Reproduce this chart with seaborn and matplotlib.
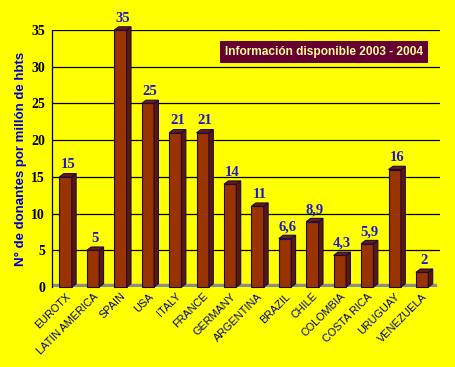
import matplotlib
matplotlib.use("Agg")
import matplotlib.pyplot as plt
import seaborn as sns
import pandas as pd
from matplotlib.patches import Polygon

# data
countries = ["EUROTX", "LATIN AMERICA", "SPAIN", "USA", "ITALY", "FRANCE", "GERMANY",
             "ARGENTINA", "BRAZIL", "CHILE", "COLOMBIA", "COSTA RICA", "URUGUAY", "VENEZUELA"]
donors = [15, 5, 35, 25, 21, 21, 14, 11, 6.6, 8.9, 4.3, 5.9, 16, 2]
value_labels = ["15", "5", "35", "25", "21", "21", "14", "11", "6,6", "8,9", "4,3", "5,9", "16", "2"]

df = pd.DataFrame({"country": countries, "donors": donors})

sns.set_style("white")
plt.rcParams["font.family"] = ["Liberation Sans", "DejaVu Sans"]

bg = "#ffff00"
fig = plt.figure(figsize=(4.55, 3.67), dpi=100, facecolor=bg)
ax = fig.add_axes([0.114, 0.218, 0.853, 0.70])
ax.set_facecolor(bg)

sns.barplot(data=df, x="country", y="donors", color="#993300", width=0.45,
            edgecolor="#1a0a4d", linewidth=0.8, saturation=1, ax=ax, zorder=3)

# fake 3d: side + top of each bar
dx, dy = 0.16, 0.45
for p in list(ax.patches):
    p.set_clip_on(False)
    x0, w, h = p.get_x(), p.get_width(), p.get_height()
    side = Polygon([(x0 + w, 0), (x0 + w + dx, dy), (x0 + w + dx, h + dy), (x0 + w, h)],
                   closed=True, facecolor="#5c1a00", edgecolor="#1a0a4d", lw=0.8,
                   zorder=3, clip_on=False)
    top = Polygon([(x0, h), (x0 + dx, h + dy), (x0 + w + dx, h + dy), (x0 + w, h)],
                  closed=True, facecolor="#6b1f00", edgecolor="#1a0a4d", lw=0.8,
                  zorder=3, clip_on=False)
    ax.add_patch(side)
    ax.add_patch(top)

for i, (v, lab) in enumerate(zip(donors, value_labels)):
    ax.text(i + dx / 2, v + dy + 0.3, lab, ha="center", va="bottom", color="#1a1acc",
            fontsize=10.5, fontweight="bold", family="Liberation Serif", zorder=4)

# floor
ax.axhspan(-0.05, 0.45, xmin=0.0, xmax=0.99, color="#8c8c8c", zorder=2)

ax.set_ylim(0, 35)
ax.set_xlim(-0.5, 13.65)
ax.set_yticks(range(0, 36, 5))
for yv in range(5, 36, 5):
    ax.axhline(yv, color="black", lw=0.9, zorder=1)

sns.despine(ax=ax, top=True, right=True, bottom=True)
ax.spines["left"].set_color("black")
ax.spines["left"].set_linewidth(0.9)

ax.set_xticks([i + 0.5 for i in range(-1, 14)], minor=True)
ax.tick_params(axis="x", which="major", length=0, pad=3)
ax.tick_params(axis="x", which="minor", length=4, width=0.8, color="black")
ax.tick_params(axis="y", length=4, width=0.8, color="black", pad=1)
ax.set_xticks(range(len(countries)))
ax.set_xticklabels(countries, rotation=45, ha="right", rotation_mode="anchor",
                   fontsize=7.8, color="#000080")
for t in ax.get_yticklabels():
    t.set_fontfamily("Liberation Serif")
    t.set_fontweight("bold")
    t.set_fontsize(10)
    t.set_color("black")

ax.set_xlabel("")
ax.set_ylabel("N° de donantes por millón de hbts", color="#0000cc", fontsize=9.5,
              fontweight="bold", labelpad=3)

fig.text(0.712, 0.858, "Información disponible 2003 - 2004", ha="center", va="center",
         fontsize=8.6, fontweight="bold", color="#ffff99",
         bbox=dict(boxstyle="square,pad=0.4", facecolor="#660033", edgecolor="none"))

fig.savefig("out.png", dpi=100, facecolor=bg)
